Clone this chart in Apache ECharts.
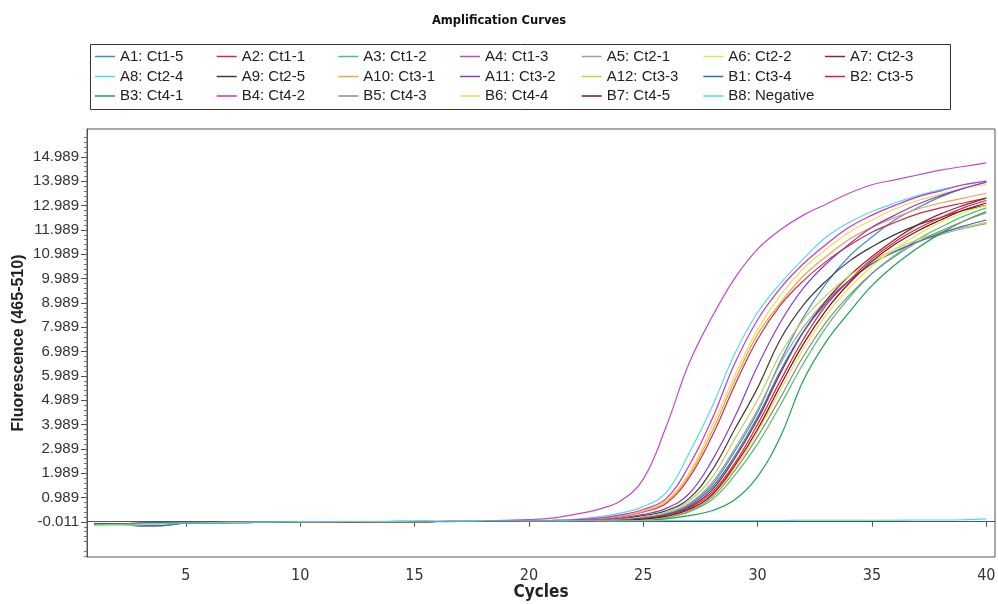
<!DOCTYPE html>
<html>
<head>
<meta charset="utf-8">
<title>Amplification Curves</title>
<script src="https://cdn.jsdelivr.net/npm/echarts@6/dist/echarts.min.js"></script>
<style>
    html, body { margin: 0; padding: 0; background: #fff; }
    #chart { width: 998px; height: 604px; }
</style>
</head>
<body>
<div id="chart"></div>
<script>
// cycles 1..40
const cycles = [1,2,3,4,5,6,7,8,9,10,11,12,13,14,15,16,17,18,19,20,21,22,23,24,25,26,27,28,29,30,31,32,33,34,35,36,37,38,39,40];

// legend order: well + sample
const sampleNames = [
    'A1: Ct1-5', 'A2: Ct1-1', 'A3: Ct1-2', 'A4: Ct1-3', 'A5: Ct2-1', 'A6: Ct2-2', 'A7: Ct2-3',
    'A8: Ct2-4', 'A9: Ct2-5', 'A10: Ct3-1', 'A11: Ct3-2', 'A12: Ct3-3', 'B1: Ct3-4', 'B2: Ct3-5',
    'B3: Ct4-1', 'B4: Ct4-2', 'B5: Ct4-3', 'B6: Ct4-4', 'B7: Ct4-5', 'B8: Negative'
];

// fluorescence values (465-510)
const A1 = [-0.11,-0.1,-0.08,-0.06,-0.05,-0.04,-0.03,-0.03,-0.02,-0.01,-0.01,0,0,0,0.01,0.01,0.01,0.02,0.02,0.02,
    0.03,0.03,0.05,0.08,0.16,0.32,0.7,1.5,2.9,4.5,6.6,8.4,9.8,10.9,11.7,12.4,12.9,13.35,13.7,13.95];
const A2 = [-0.11,-0.1,-0.08,-0.06,-0.05,-0.04,-0.03,-0.02,-0.02,-0.01,-0.01,0,0,0,0.01,0.01,0.01,0.02,0.02,0.03,
    0.03,0.04,0.1,0.2,0.4,0.75,1.8,3.5,5.6,7.5,8.9,9.9,10.7,11.35,11.9,12.3,12.65,12.9,13.1,13.3];
const A3 = [-0.12,-0.1,-0.08,-0.06,-0.05,-0.04,-0.03,-0.02,-0.02,-0.01,-0.01,0,0,0.01,0.02,0.01,0.01,0.01,0.01,0.01,
    0.02,0.02,0.03,0.04,0.08,0.16,0.4,0.9,1.9,3.2,4.8,6.5,8.0,9.2,10.2,10.95,11.6,12.1,12.55,12.9];
const A4 = [-0.14,-0.12,-0.1,-0.08,-0.06,-0.05,-0.04,-0.03,-0.02,-0.02,-0.01,0,0,0.01,0.01,0.02,0.03,0.04,0.06,0.09,
    0.15,0.3,0.5,0.85,1.75,3.9,6.5,8.4,10.0,11.2,12.0,12.6,13.05,13.5,13.85,14.05,14.25,14.45,14.6,14.75];
const A5 = [-0.1,-0.09,-0.07,-0.06,-0.05,-0.04,-0.03,-0.02,-0.02,-0.01,-0.01,0,0,0,0,0.01,0.01,0.01,0.01,0.02,
    0.02,0.03,0.05,0.1,0.18,0.35,0.75,1.6,3.0,4.6,6.5,8.0,9.1,9.9,10.6,11.1,11.5,11.8,12.05,12.25];
const A6 = [-0.16,-0.14,-0.12,-0.09,-0.07,-0.05,-0.04,-0.03,-0.03,-0.02,-0.02,-0.01,0,0,0,0.01,0.01,0.02,0.02,0.03,
    0.04,0.05,0.12,0.25,0.45,0.85,2.0,3.9,6.0,7.9,9.3,10.4,11.2,11.9,12.4,12.85,13.2,13.45,13.7,13.85];
const A7 = [-0.1,-0.09,-0.07,-0.06,-0.05,-0.04,-0.03,-0.02,-0.02,-0.01,-0.01,0,0,0,0,0.01,0.01,0.01,0.02,0.02,
    0.02,0.03,0.04,0.07,0.14,0.28,0.6,1.3,2.6,4.2,6.1,7.8,9.1,10.1,10.9,11.6,12.2,12.65,13.0,13.3];
const A8 = [-0.15,-0.13,-0.1,-0.08,-0.06,-0.05,-0.04,-0.03,-0.03,-0.02,-0.01,-0.01,0,0,0.01,0.01,0.02,0.03,0.03,0.05,
    0.07,0.1,0.2,0.35,0.62,1.2,2.8,4.7,6.9,8.6,9.8,10.8,11.7,12.3,12.75,13.1,13.4,13.65,13.85,14.0];
const A9 = [-0.1,-0.09,-0.07,-0.06,-0.05,-0.04,-0.03,-0.02,-0.02,-0.01,-0.01,0,0,0,0,0.01,0.01,0.01,0.02,0.02,
    0.02,0.03,0.06,0.12,0.25,0.45,0.95,2.1,3.8,5.5,7.5,8.9,9.9,10.7,11.3,11.8,12.2,12.5,12.8,13.0];
const A10 = [-0.12,-0.1,-0.08,-0.07,-0.05,-0.04,-0.03,-0.03,-0.02,-0.01,-0.01,0,0,0,0.01,0.01,0.01,0.02,0.02,0.03,
    0.04,0.05,0.12,0.22,0.42,0.8,1.9,3.7,5.8,7.7,9.0,10.1,10.9,11.6,12.1,12.5,12.85,13.1,13.3,13.5];
const A11 = [-0.12,-0.1,-0.17,-0.16,-0.06,-0.05,-0.04,-0.03,-0.02,-0.02,-0.01,-0.01,0,0,0,0.01,0.01,0.01,0.02,0.02,
    0.03,0.04,0.08,0.15,0.3,0.55,1.15,2.5,4.3,6.4,8.2,9.6,10.6,11.4,12.1,12.6,13.05,13.4,13.7,13.95];
const A12 = [-0.13,-0.11,-0.09,-0.07,-0.06,-0.05,-0.04,-0.03,-0.02,-0.02,-0.01,-0.01,0,0,0,0.01,0.01,0.01,0.02,0.02,
    0.02,0.03,0.05,0.1,0.2,0.4,0.85,1.8,3.4,5.0,6.9,8.3,9.3,10.1,10.7,11.2,11.6,11.9,12.1,12.3];
const B1 = [-0.12,-0.1,-0.17,-0.16,-0.06,-0.05,-0.04,-0.03,-0.02,-0.02,-0.01,-0.01,0,0,0,0.01,0.01,0.01,0.02,0.02,
    0.02,0.03,0.04,0.07,0.15,0.3,0.65,1.4,2.7,4.3,6.2,7.8,9.0,9.9,10.6,11.1,11.5,11.85,12.15,12.4];
const B2 = [-0.11,-0.1,-0.08,-0.06,-0.05,-0.04,-0.03,-0.02,-0.02,-0.01,-0.01,0,0,0,0,0.01,0.01,0.01,0.01,0.02,
    0.02,0.02,0.04,0.06,0.12,0.25,0.55,1.2,2.4,4.0,5.8,7.5,8.9,9.9,10.8,11.5,12.05,12.5,12.9,13.2];
const B3 = [-0.11,-0.1,-0.08,-0.06,-0.05,-0.04,-0.03,-0.02,-0.02,-0.01,-0.01,0,0,0.02,0.02,0.01,0.01,0.01,0.01,0.01,
    0.01,0.02,0.02,0.03,0.06,0.12,0.25,0.45,0.9,1.85,3.5,5.8,7.4,8.6,9.7,10.55,11.25,11.85,12.35,12.75];
const B4 = [-0.13,-0.11,-0.09,-0.07,-0.06,-0.05,-0.04,-0.03,-0.02,-0.02,-0.01,0,0,0,0.01,0.01,0.02,0.02,0.03,0.04,
    0.05,0.08,0.15,0.28,0.5,0.95,2.3,4.2,6.5,8.3,9.6,10.6,11.4,12.1,12.6,13.0,13.35,13.6,13.85,14.0];
const B5 = [-0.1,-0.09,-0.07,-0.06,-0.05,-0.04,-0.03,-0.02,-0.02,-0.01,-0.01,0,0,0,0,0,0.01,0.01,0.01,0.01,
    0.02,0.02,0.03,0.04,0.09,0.18,0.44,1.0,2.1,3.5,5.1,6.8,8.2,9.3,10.2,10.9,11.5,11.95,12.35,12.7];
const B6 = [-0.16,-0.15,-0.12,-0.09,-0.06,-0.05,-0.04,-0.03,-0.02,-0.02,-0.01,-0.01,0,0,0,0.01,0.01,0.01,0.01,0.02,
    0.02,0.02,0.03,0.05,0.1,0.2,0.48,1.05,2.2,3.7,5.4,7.1,8.5,9.6,10.5,11.2,11.8,12.3,12.7,13.0];
const B7 = [-0.1,-0.09,-0.07,-0.06,-0.05,-0.04,-0.03,-0.02,-0.02,-0.01,-0.01,-0.01,0,0,0,0.01,0.01,0.01,0.01,0.02,
    0.02,0.02,0.03,0.05,0.11,0.22,0.5,1.1,2.3,3.8,5.6,7.3,8.7,9.8,10.7,11.4,11.95,12.4,12.8,13.1];
const B8 = [-0.13,-0.11,-0.09,-0.07,-0.05,-0.04,-0.03,-0.02,-0.01,0,0,0.01,0.01,0.01,0.02,0.02,0.02,0.03,0.03,0.03,
    0.03,0.04,0.04,0.04,0.04,0.05,0.05,0.05,0.05,0.05,0.05,0.06,0.06,0.06,0.06,0.06,0.07,0.07,0.08,0.12];

const seriesValues = [A1, A2, A3, A4, A5, A6, A7, A8, A9, A10, A11, A12, B1, B2, B3, B4, B5, B6, B7, B8];

// axis labels
const xTicks = [5, 10, 15, 20, 25, 30, 35, 40];
const yTicks = [-0.011, 0.989, 1.989, 2.989, 3.989, 4.989, 5.989, 6.989, 7.989, 8.989, 9.989, 10.989, 11.989, 12.989, 13.989, 14.989];

const colors = [
    '#3f8fc8', '#c8304a', '#4cc46a', '#c04cc8', '#a0a0a0', '#eedc50', '#9c2030',
    '#50e0e0', '#3c3c3c', '#f0a050', '#8a3cc8', '#c8cc50', '#2f6fb8', '#e0203c',
    '#20a050', '#d030c8', '#8a8a8a', '#f0e040', '#7a1020', '#40e0e8'
];

const yMin = -1.45, yMax = 16.14;
const xMin = 0.68, xMax = 40.38;

// minor ticks every 0.2 between the labelled ticks
const yMinorTicks = [];
for (let k = -7; k <= 81; k++) {
    if (k % 5 === 0) continue;
    const v = +(yTicks[0] + k * 0.2).toFixed(3);
    if (v > yMin && v < yMax) yMinorTicks.push(v);
}

// legend laid out as a 7-column table, one small legend per cell
const legendCols = 7;
const legendRowTops = [49, 69, 88.5];
const legendColWidth = 121.67;

const legends = sampleNames.map((name, i) => ({
    data: [name],
    left: 95 + (i % legendCols) * legendColWidth,
    top: legendRowTops[Math.floor(i / legendCols)],
    padding: 0,
    icon: 'rect',
    itemWidth: 20,
    itemHeight: 1.5,
    selectedMode: false,
    textStyle: { fontFamily: 'Liberation Sans, Arial, sans-serif', fontSize: 15, color: '#222' }
}));

const chart = echarts.init(document.getElementById('chart'), null, { renderer: 'canvas' });

const option = {
    animation: false,
    backgroundColor: '#fff',
    title: {
        text: 'Amplification Curves',
        left: 'center',
        top: 10,
        textStyle: { fontFamily: 'DejaVu Sans', fontWeight: 'bold', fontSize: 11.5, color: '#111' }
    },
    legend: legends,
    graphic: [{
        type: 'rect',
        left: 88,
        top: 42,
        silent: true,
        shape: { width: 860, height: 65 },
        style: { fill: 'none', stroke: '#333', lineWidth: 1 }
    }],
    grid: {
        left: 87,
        right: 3,
        top: 129,
        bottom: 47,
        outerBoundsMode: 'none',
        show: true,
        borderColor: '#555',
        borderWidth: 1
    },
    xAxis: {
        type: 'value',
        min: xMin,
        max: xMax,
        name: 'Cycles',
        nameLocation: 'middle',
        nameGap: 27,
        nameMoveOverlap: false,
        nameTextStyle: { fontFamily: 'Liberation Sans Narrow, DejaVu Sans Condensed, sans-serif', fontWeight: 'bold', fontSize: 17, color: '#222' },
        axisLine: { lineStyle: { color: '#555' } },
        axisTick: { customValues: xTicks, length: 5, lineStyle: { color: '#555' } },
        axisLabel: {
            customValues: xTicks,
            margin: 11,
            fontFamily: 'Liberation Sans Narrow, DejaVu Sans Condensed, sans-serif',
            fontSize: 16,
            color: '#333'
        },
        splitLine: { show: false }
    },
    yAxis: [{
        type: 'value',
        position: 'left',
        min: yMin,
        max: yMax,
        name: 'Fluorescence (465-510)',
        nameLocation: 'middle',
        nameGap: 60,
        nameMoveOverlap: false,
        nameTextStyle: { fontFamily: 'Liberation Sans, Arial, sans-serif', fontWeight: 'bold', fontSize: 16, color: '#222' },
        axisLine: { show: true, lineStyle: { color: '#555' } },
        axisTick: { show: true, customValues: yTicks, length: 6, lineStyle: { color: '#555' } },
        axisLabel: {
            customValues: yTicks,
            margin: 8,
            formatter: v => v.toFixed(3),
            fontFamily: 'Liberation Sans, Arial, sans-serif',
            fontSize: 15,
            color: '#333'
        },
        splitLine: { show: false }
    }, {
        type: 'value',
        position: 'left',
        offset: 0,
        min: yMin,
        max: yMax,
        axisLine: { show: false },
        axisTick: { show: true, customValues: yMinorTicks, length: 3, lineStyle: { color: '#777' } },
        axisLabel: { show: false },
        splitLine: { show: false }
    }],
    series: sampleNames.map((name, i) => ({
        name: name,
        type: 'line',
        yAxisIndex: 0,
        symbol: 'none',
        smooth: 0.4,
        color: colors[i],
        lineStyle: { width: 1.2, color: colors[i] },
        data: cycles.map((c, j) => [c, seriesValues[i][j]])
    }))
};

chart.setOption(option);
</script>
</body>
</html>
